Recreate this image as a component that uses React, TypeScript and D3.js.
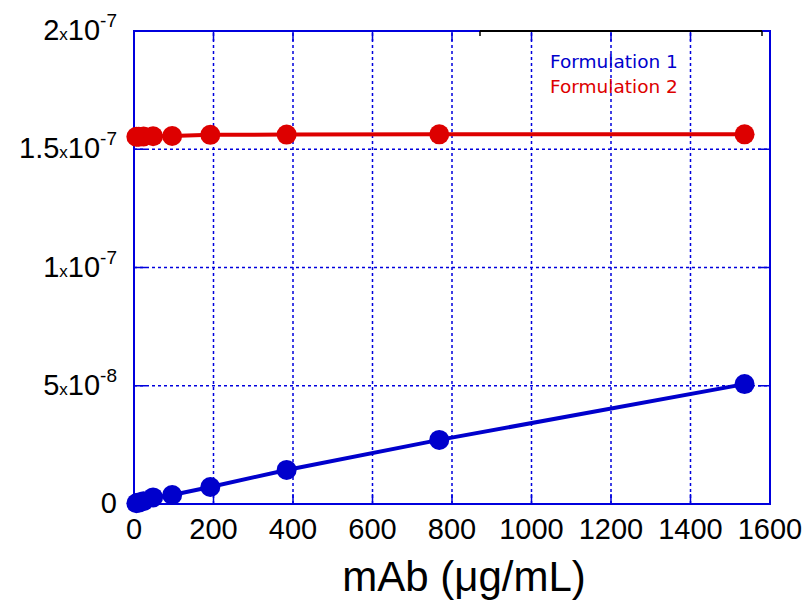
import React from "react";
import * as d3 from "d3";

const xValues = [6, 12, 24, 48, 96, 192, 384, 768, 1536];
const formulation1 = [0.3e-9, 0.6e-9, 1.2e-9, 2.8e-9, 3.8e-9, 7.2e-9, 14.4e-9, 27.1e-9, 50.7e-9];
const formulation2 = [1.553e-7, 1.553e-7, 1.554e-7, 1.555e-7, 1.556e-7, 1.561e-7, 1.562e-7, 1.563e-7, 1.563e-7];
const xTicks = [0, 200, 400, 600, 800, 1000, 1200, 1400, 1600];
const yTicks = [0, 5e-8, 1e-7, 1.5e-7, 2e-7];
const yTickMantissa = ["0", "5", "1", "1.5", "2"];
const yTickExp = ["", "-8", "-7", "-7", "-7"];
const seriesNames = ["Formulation 1", "Formulation 2"];
const seriesColors = ["#0000cc", "#dd0000"];

export default function App() {
  const W = 806, H = 600;
  const L = 134, R = 770, T = 31, B = 504;
  const x = d3.scaleLinear().domain([0, 1600]).range([L, R]);
  const y = d3.scaleLinear().domain([0, 2e-7]).range([B, T]);
  const line = d3.line<[number, number]>().x(d => x(d[0])).y(d => y(d[1]));
  const series = [formulation1, formulation2].map(vals => xValues.map((xv, i) => [xv, vals[i]] as [number, number]));
  const gridColor = "#0000dd";
  const font = "'Liberation Sans', Arial, sans-serif";

  return (
    <svg width={W} height={H} style={{ position: "absolute", left: 0, top: 0, background: "#fff" }}>
      {/* grid */}
      {xTicks.filter(t => t > 0 && t < 1600).map(t => (
        <line key={"gx" + t} x1={x(t)} x2={x(t)} y1={B} y2={T} stroke={gridColor} strokeWidth={1.5} strokeDasharray="3,3" />
      ))}
      {yTicks.filter(t => t > 0 && t < 2e-7).map(t => (
        <line key={"gy" + t} x1={L} x2={R} y1={y(t)} y2={y(t)} stroke={gridColor} strokeWidth={1.5} strokeDasharray="3,3" />
      ))}
      {/* ticks */}
      {xTicks.filter(t => t > 0 && t < 1600).map(t => (
        <g key={"tx" + t}>
          <line x1={x(t)} x2={x(t)} y1={B} y2={B - 10} stroke={gridColor} strokeWidth={1.5} />
          <line x1={x(t)} x2={x(t)} y1={T} y2={T + 10} stroke={gridColor} strokeWidth={1.5} />
        </g>
      ))}
      {yTicks.filter(t => t > 0 && t < 2e-7).map(t => (
        <g key={"ty" + t}>
          <line x1={L} x2={L + 12} y1={y(t)} y2={y(t)} stroke={gridColor} strokeWidth={1.5} />
          <line x1={R} x2={R - 12} y1={y(t)} y2={y(t)} stroke={gridColor} strokeWidth={1.5} />
        </g>
      ))}
      {/* frame */}
      <rect x={L} y={T} width={R - L} height={B - T} fill="none" stroke={gridColor} strokeWidth={2} />
      <line x1={480} x2={762} y1={T} y2={T} stroke="#000" strokeWidth={2} />
      <line x1={480} x2={480} y1={T} y2={T + 5} stroke="#000" strokeWidth={1.5} />
      <line x1={762} x2={762} y1={T} y2={T + 5} stroke="#000" strokeWidth={1.5} />
      {/* series */}
      {series.map((s, i) => (
        <g key={"s" + i}>
          <path d={line(s) || ""} fill="none" stroke={seriesColors[i]} strokeWidth={4} />
          {s.map((p, j) => (
            <circle key={j} cx={x(p[0])} cy={y(p[1])} r={10} fill={seriesColors[i]} />
          ))}
        </g>
      ))}
      {/* x tick labels */}
      {xTicks.map(t => (
        <text key={"xl" + t} x={x(t)} y={539} textAnchor="middle" fontFamily={font} fontSize={29} fill="#000">{t}</text>
      ))}
      {/* y tick labels */}
      {yTicks.map((t, i) => (
        <text key={"yl" + t} x={117} y={y(t) + 9} textAnchor="end" fontFamily={font} fill="#000">
          {yTickExp[i] === "" ? (
            <tspan fontSize={29}>{yTickMantissa[i]}</tspan>
          ) : (
            <>
              <tspan fontSize={29}>{yTickMantissa[i]}</tspan>
              <tspan fontSize={17}>x</tspan>
              <tspan fontSize={29}>10</tspan>
              <tspan fontSize={19} dy={-13}>{yTickExp[i]}</tspan>
            </>
          )}
        </text>
      ))}
      {/* axis title */}
      <text x={464} y={591} textAnchor="middle" fontFamily={font} fontSize={42} fill="#000">mAb (μg/mL)</text>
      {/* legend */}
      {seriesNames.map((n, i) => (
        <text key={n} x={550} y={68 + i * 25} fontFamily="'DejaVu Sans', Verdana, sans-serif" fontSize={18.5} fill={seriesColors[i]}>{n}</text>
      ))}
    </svg>
  );
}
